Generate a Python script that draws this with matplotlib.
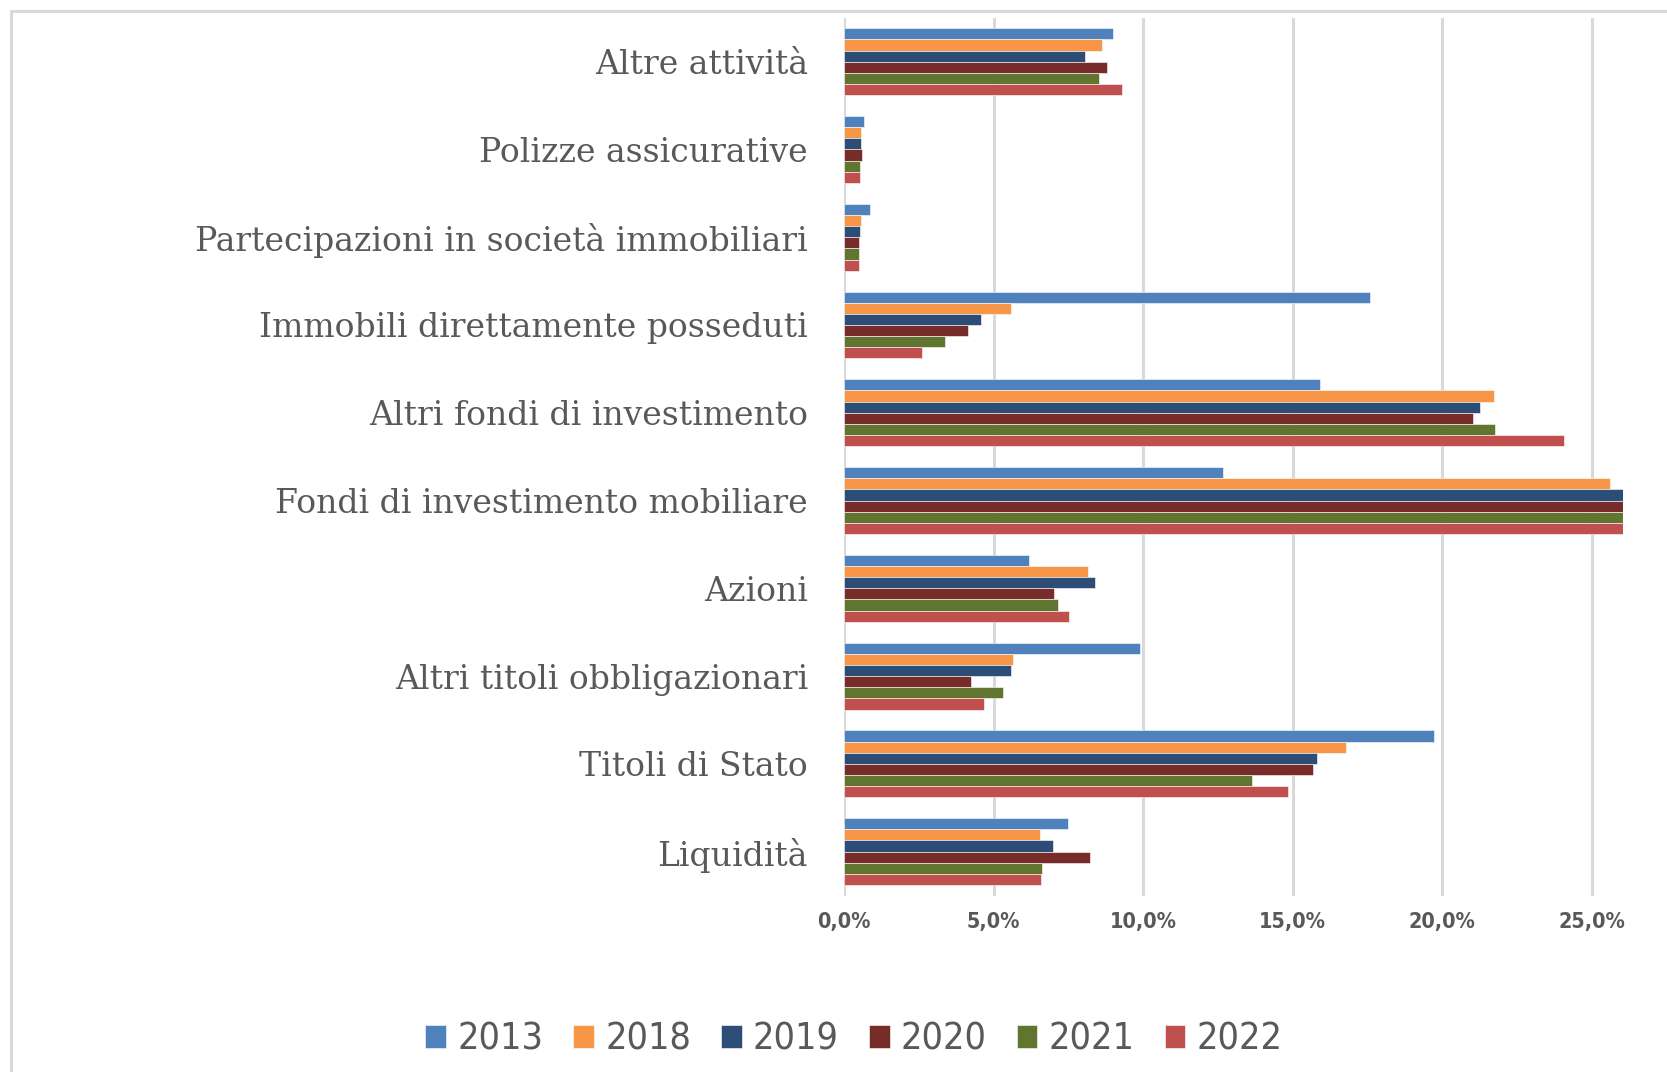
import matplotlib
matplotlib.use("Agg")
import matplotlib.pyplot as plt
import numpy as np
from matplotlib.patches import Rectangle
from matplotlib.ticker import FuncFormatter

categories = ["Liquidità", "Titoli di Stato", "Altri titoli obbligazionari", "Azioni",
              "Fondi di investimento mobiliare", "Altri fondi di investimento",
              "Immobili direttamente posseduti", "Partecipazioni in società immobiliari",
              "Polizze assicurative", "Altre attività"]
years = ["2013", "2018", "2019", "2020", "2021", "2022"]
v2013 = [7.49, 19.72, 9.90, 6.19, 12.67, 15.92, 17.58, 0.87, 0.66, 9.00]
v2018 = [6.56, 16.78, 5.65, 8.17, 25.61, 21.73, 5.60, 0.58, 0.58, 8.63]
v2019 = [7.00, 15.83, 5.60, 8.40, 26.30, 21.27, 4.58, 0.55, 0.58, 8.06]
v2020 = [8.22, 15.68, 4.25, 7.03, 26.30, 21.03, 4.13, 0.50, 0.59, 8.80]
v2021 = [6.63, 13.66, 5.32, 7.16, 26.30, 21.76, 3.39, 0.50, 0.55, 8.54]
v2022 = [6.58, 14.85, 4.69, 7.52, 26.30, 24.09, 2.62, 0.50, 0.55, 9.29]
series = [v2013, v2018, v2019, v2020, v2021, v2022]
colors = ["#4F81BD", "#F79646", "#2C4D75", "#772C2A", "#5F7530", "#C0504D"]
xticks = [0, 5, 10, 15, 20, 25]

fig = plt.figure(figsize=(16.67, 10.72), dpi=100)
fig.patches.append(Rectangle((11/1667, -0.1), 1.2, 1 - 11/1072 + 0.1, transform=fig.transFigure,
                             fill=False, edgecolor="#d9d9d9", linewidth=2.2, zorder=0))
ax = fig.add_axes([844/1667, 1 - 895.5/1072, (1623 - 844)/1667, (895.5 - 17.8)/1072])

n = len(years)
bh = 0.127
y = np.arange(len(categories))
for i, (vals, c, yr) in enumerate(zip(series, colors, years)):
    off = (n - 1) / 2 * bh - i * bh
    ax.barh(y + off, vals, height=bh, color=c, label=yr, edgecolor="white", linewidth=0.4, zorder=3)

ax.set_xlim(0, 26.05)
ax.set_ylim(-0.5, len(categories) - 0.5)
ax.set_xticks(xticks)
ax.xaxis.set_major_formatter(FuncFormatter(lambda v, p: f"{v:.1f}%".replace(".", ",")))
ax.grid(axis="x", color="#d9d9d9", linewidth=2.2, zorder=0)
for s in ax.spines.values():
    s.set_visible(False)
ax.tick_params(axis="x", length=0, pad=12, labelcolor="#595959")
for lab in ax.get_xticklabels():
    lab.set_fontfamily("DejaVu Sans")
    lab.set_fontstretch("condensed")
    lab.set_fontweight("bold")
    lab.set_fontsize(15.5)
ax.set_yticks(y)
ax.set_yticklabels(categories, fontsize=23.8, color="#595959", family="DejaVu Serif")
ax.tick_params(axis="y", length=0, pad=26)

handles, labels = ax.get_legend_handles_labels()
leg = fig.legend(handles, labels, loc="center", bbox_to_anchor=(854/1667, 1 - 1040/1072), ncol=6,
                 frameon=False, handlelength=0.55, handleheight=0.55,
                 handletextpad=0.3, columnspacing=0.8,
                 prop={"family": "DejaVu Sans", "stretch": "condensed", "size": 27})
for t in leg.get_texts():
    t.set_color("#595959")

fig.savefig("out.png", dpi=100)
